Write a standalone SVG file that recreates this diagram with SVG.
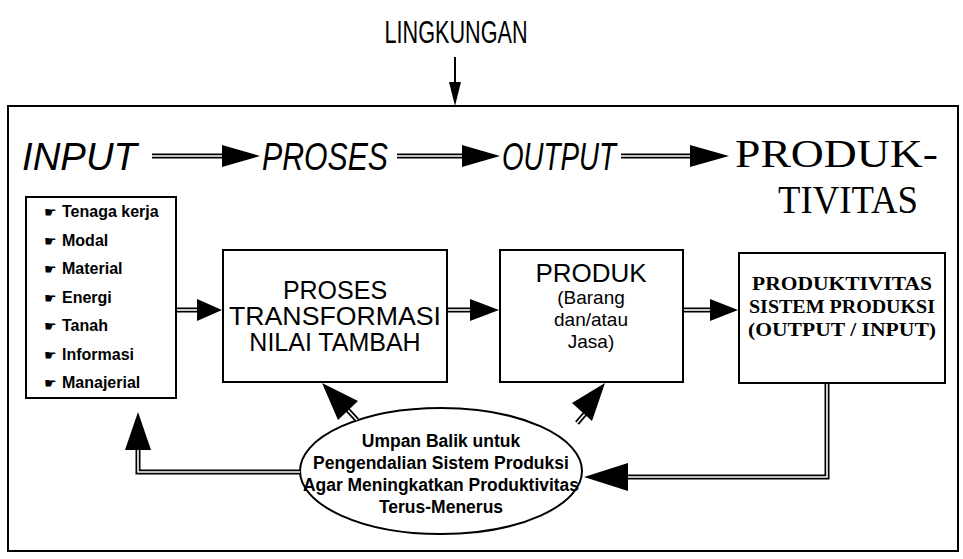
<svg xmlns="http://www.w3.org/2000/svg" width="963" height="559" viewBox="0 0 963 559">
<style>
.t{font-family:"Liberation Sans",Arial,sans-serif;fill:#000}
.s{font-family:"Liberation Serif","Times New Roman",serif;fill:#000}
.hd{font-family:"DejaVu Sans",sans-serif;font-size:14px;fill:#000}
.box{fill:#fff;stroke:#000;stroke-width:2}
.dl{fill:none;stroke:#000;stroke-width:5}
.dw{fill:none;stroke:#fff;stroke-width:1.6}
.ah{fill:#000}
.it{font-size:16px;font-weight:bold}
.el{font-size:17.5px;font-weight:bold}
</style>
<rect width="963" height="559" fill="#fff"/>

<g id="lingkungan">
<text class="t" x="456" y="43" font-size="31" text-anchor="middle" textLength="143" lengthAdjust="spacingAndGlyphs">LINGKUNGAN</text>
</g>

<g id="frame">
<rect x="8" y="106" width="950" height="445" fill="none" stroke="#000" stroke-width="2"/>
</g>

<g id="titles">
<text class="t" x="22" y="170" font-size="39" font-style="italic" textLength="115" lengthAdjust="spacingAndGlyphs">INPUT</text>
<text class="t" x="262" y="170" font-size="39" font-style="italic" textLength="126" lengthAdjust="spacingAndGlyphs">PROSES</text>
<text class="t" x="502" y="170" font-size="39" font-style="italic" textLength="114" lengthAdjust="spacingAndGlyphs">OUTPUT</text>
<text class="s" x="735" y="167" font-size="40" textLength="203" lengthAdjust="spacingAndGlyphs">PRODUK-</text>
<text class="s" x="778" y="213" font-size="40" textLength="140" lengthAdjust="spacingAndGlyphs">TIVITAS</text>
</g>

<g id="input">
<rect class="box" x="26" y="197" width="150" height="201"/>
<text class="hd" x="44" y="217">☛</text><text class="t it" x="62" y="217">Tenaga kerja</text>
<text class="hd" x="44" y="245.5">☛</text><text class="t it" x="62" y="245.5">Modal</text>
<text class="hd" x="44" y="274">☛</text><text class="t it" x="62" y="274">Material</text>
<text class="hd" x="44" y="302.5">☛</text><text class="t it" x="62" y="302.5">Energi</text>
<text class="hd" x="44" y="331">☛</text><text class="t it" x="62" y="331">Tanah</text>
<text class="hd" x="44" y="359.5">☛</text><text class="t it" x="62" y="359.5">Informasi</text>
<text class="hd" x="44" y="388">☛</text><text class="t it" x="62" y="388">Manajerial</text>
</g>

<g id="proses">
<rect class="box" x="223" y="250" width="224" height="132"/>
<text class="t" x="335" y="299" font-size="25" text-anchor="middle">PROSES</text>
<text class="t" x="335" y="325" font-size="25" text-anchor="middle" textLength="212" lengthAdjust="spacingAndGlyphs">TRANSFORMASI</text>
<text class="t" x="335" y="351" font-size="25" text-anchor="middle">NILAI TAMBAH</text>
</g>

<g id="produk">
<rect class="box" x="500" y="250" width="183" height="132"/>
<text class="t" x="591" y="282" font-size="26" text-anchor="middle">PRODUK</text>
<text class="t" x="591" y="304" font-size="19" text-anchor="middle">(Barang</text>
<text class="t" x="591" y="326" font-size="19" text-anchor="middle">dan/atau</text>
<text class="t" x="591" y="348" font-size="19" text-anchor="middle">Jasa)</text>
</g>

<g id="produktivitas">
<rect class="box" x="739" y="253" width="206" height="130"/>
<text class="s" x="842" y="290" font-size="19" font-weight="bold" text-anchor="middle" textLength="180" lengthAdjust="spacingAndGlyphs">PRODUKTIVITAS</text>
<text class="s" x="842" y="313" font-size="19" font-weight="bold" text-anchor="middle" textLength="186" lengthAdjust="spacingAndGlyphs">SISTEM PRODUKSI</text>
<text class="s" x="842" y="336" font-size="19" font-weight="bold" text-anchor="middle" textLength="188" lengthAdjust="spacingAndGlyphs">(OUTPUT / INPUT)</text>
</g>

<g id="umpan-balik">
<ellipse cx="441" cy="471" rx="141" ry="63" fill="#fff" stroke="#000" stroke-width="2"/>
<text class="t el" x="441" y="447" text-anchor="middle">Umpan Balik untuk</text>
<text class="t el" x="441" y="469" text-anchor="middle">Pengendalian Sistem Produksi</text>
<text class="t el" x="441" y="491" text-anchor="middle" textLength="276" lengthAdjust="spacingAndGlyphs">Agar Meningkatkan Produktivitas</text>
<text class="t el" x="441" y="513" text-anchor="middle">Terus-Menerus</text>
</g>

<g id="connectors">
<line x1="455" y1="57" x2="455" y2="86" stroke="#000" stroke-width="2"/>
<polygon class="ah" points="449,82 461,82 455,106"/>
<path class="dl" d="M152,156 H226"/><path class="dw" d="M152,156 H226"/>
<polygon class="ah" points="222,145 222,167 260,156"/>
<path class="dl" d="M397,156 H466"/><path class="dw" d="M397,156 H466"/>
<polygon class="ah" points="462,145 462,167 500,156"/>
<path class="dl" d="M621,156 H694"/><path class="dw" d="M621,156 H694"/>
<polygon class="ah" points="690,145 690,167 729,156"/>
<path class="dl" d="M177,310 H201"/><path class="dw" d="M177,310 H201"/>
<polygon class="ah" points="197,299 197,321 222,310"/>
<path class="dl" d="M448,310 H474"/><path class="dw" d="M448,310 H474"/>
<polygon class="ah" points="470,299 470,321 499,310"/>
<path class="dl" d="M684,310 H714"/><path class="dw" d="M684,310 H714"/>
<polygon class="ah" points="710,299 710,321 738,310"/>
<path class="dl" d="M827,384 V477 H624"/><path class="dw" d="M827,384 V477 H624"/>
<polygon class="ah" points="628,463 628,491 584,477"/>
<path class="dl" d="M300,472 H138 V446"/><path class="dw" d="M300,472 H138 V446"/>
<polygon class="ah" points="125,450 151,450 138,412"/>
<path class="dl" d="M345,407 L357,420"/><path class="dw" d="M345,407 L357,420"/>
<polygon class="ah" points="322,383 338,420 358,401"/>
<path class="dl" d="M590,408 L577,423"/><path class="dw" d="M590,408 L577,423"/>
<polygon class="ah" points="605,383 572,403 592,421"/>
</g>
</svg>
